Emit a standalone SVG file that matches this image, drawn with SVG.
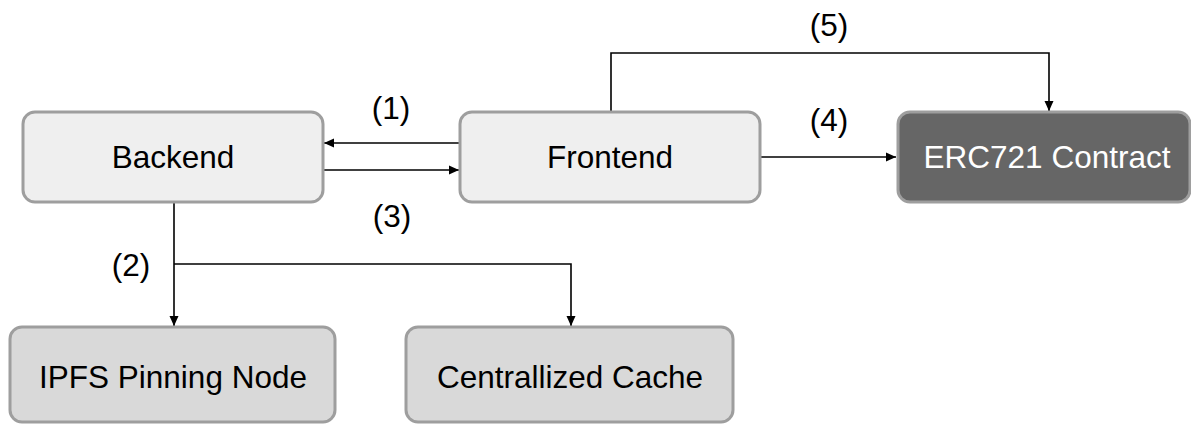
<svg xmlns="http://www.w3.org/2000/svg" width="1191" height="424" viewBox="0 0 1191 424">
  <style>
    .box { stroke: #9e9e9e; stroke-width: 3; }
    .light { fill: #efefef; }
    .mid { fill: #d9d9d9; }
    .dark { fill: #666666; }
    .t { font-family: "Liberation Sans", Arial, sans-serif; font-size: 31.5px; text-anchor: middle; fill: #000; }
    .tw { fill: #ffffff; }
    .edge { fill: none; stroke: #000; stroke-width: 1.6; }
  </style>
  <defs>
    <marker id="arr" viewBox="0 0 10 10" refX="10" refY="5" markerWidth="10" markerHeight="10" markerUnits="userSpaceOnUse" orient="auto">
      <path d="M0,0.5 L10,5 L0,9.5 Z" fill="#000"/>
    </marker>
  </defs>
  <rect width="1191" height="424" fill="#ffffff"/>

  <g id="connectors">
    <!-- (1) Frontend to Backend -->
    <path class="edge" d="M460,143 L324,143" marker-end="url(#arr)"/>
    <!-- (3) Backend to Frontend -->
    <path class="edge" d="M323,170 L459,170" marker-end="url(#arr)"/>
    <!-- (4) Frontend to ERC721 -->
    <path class="edge" d="M760,157 L896,157" marker-end="url(#arr)"/>
    <!-- (5) Frontend over the top to ERC721 -->
    <path class="edge" d="M611,112 L611,53 L1049,53 L1049,111" marker-end="url(#arr)"/>
    <!-- (2) Backend to storage -->
    <path class="edge" d="M174,202 L174,326" marker-end="url(#arr)"/>
    <path class="edge" d="M174,264 L571,264 L571,326" marker-end="url(#arr)"/>
    <text class="t" x="391" y="119">(1)</text>
    <text class="t" x="131" y="276">(2)</text>
    <text class="t" x="392" y="227">(3)</text>
    <text class="t" x="829" y="131">(4)</text>
    <text class="t" x="829" y="36">(5)</text>
  </g>

  <g id="backend">
    <rect class="box light" x="23" y="112" width="300" height="90" rx="12"/>
    <text class="t" x="173" y="168">Backend</text>
  </g>
  <g id="frontend">
    <rect class="box light" x="460" y="112" width="300" height="90" rx="12"/>
    <text class="t" x="610" y="168">Frontend</text>
  </g>
  <g id="erc721">
    <rect class="box dark" x="898" y="112" width="292" height="90" rx="12"/>
    <text class="t tw" x="1047" y="168">ERC721 Contract</text>
  </g>
  <g id="ipfs">
    <rect class="box mid" x="10" y="327" width="325" height="95" rx="12"/>
    <text class="t" x="173" y="388">IPFS Pinning Node</text>
  </g>
  <g id="cache">
    <rect class="box mid" x="406" y="327" width="327" height="95" rx="12"/>
    <text class="t" x="570" y="388">Centrallized Cache</text>
  </g>
</svg>
